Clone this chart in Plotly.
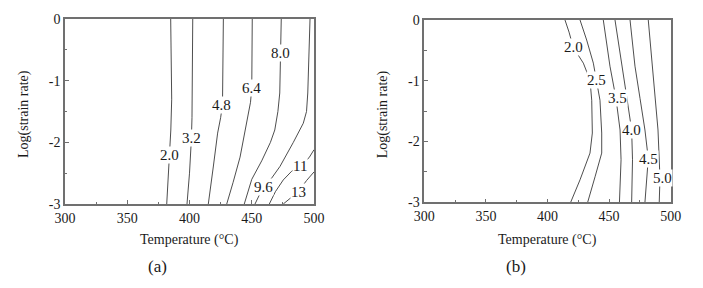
import plotly.graph_objects as go

# ---------------- Data ----------------
# Panel (a): contour lines, each as temperature (°C) / log(strain rate) points
a_levels = ["2.0", "3.2", "4.8", "6.4", "8.0", "9.6", "11", "13"]
a_T = [
    [384.9, 385.5, 385.7, 385.0, 383.8, 381.7],
    [402.6, 402.5, 402.0, 401.5, 400.0, 398.0],
    [427.2, 427.0, 426.5, 425.0, 422.6, 419.1, 415.1],
    [450.4, 450.3, 450.0, 449.0, 445.9, 440.6, 435.0, 429.9],
    [473.7, 473.2, 472.5, 471.0, 468.5, 465.0, 458.0, 450.0, 444.0],
    [496.8, 496.0, 495.0, 494.0, 491.4, 483.4, 472.7, 466.0, 459.3, 452.6],
    [500.0, 496.0, 488.8, 482.0, 475.3, 469.0, 464.1],
    [500.0, 494.0, 487.4, 480.0, 475.3],
]
a_Y = [
    [0.0, -0.8, -1.3, -1.8, -2.2, -3.0],
    [0.0, -1.0, -1.6, -1.95, -2.5, -3.0],
    [0.0, -0.8, -1.39, -1.6, -1.85, -2.4, -3.0],
    [0.0, -0.6, -1.12, -1.35, -1.69, -2.24, -2.65, -3.0],
    [0.0, -0.55, -1.2, -1.5, -1.8, -2.0, -2.3, -2.6, -3.0],
    [0.0, -0.6, -1.2, -1.5, -1.69, -2.0, -2.39, -2.58, -2.72, -3.0],
    [-2.12, -2.25, -2.38, -2.47, -2.61, -2.8, -3.0],
    [-2.48, -2.62, -2.8, -2.92, -3.0],
]
a_label_T = [384.0, 401.5, 426.0, 450.0, 473.0, 459.3, 488.8, 487.4]
a_label_Y = [-2.2, -1.93, -1.39, -1.12, -0.55, -2.72, -2.38, -2.8]

# Panel (b)
b_levels = ["2.0", "2.5", "3.5", "4.0", "4.5", "5.0"]
b_T = [
    [414.2, 417.5, 420.9, 429.1, 434.5, 435.9, 436.4, 434.5, 426.4, 418.8],
    [426.4, 431.8, 437.2, 439.9, 442.6, 444.0, 444.0, 438.6, 432.6],
    [445.3, 450.7, 455.6, 458.9, 459.7, 458.4],
    [454.8, 460.2, 464.5, 468.3, 469.0, 468.3],
    [467.0, 471.0, 475.1, 479.1, 481.8, 479.1],
    [481.8, 485.1, 487.3, 489.7, 491.3, 490.7],
]
b_Y = [
    [0.0, -0.2, -0.45, -0.71, -0.99, -1.32, -1.86, -2.19, -2.63, -3.0],
    [0.0, -0.33, -0.71, -0.99, -1.32, -1.86, -2.19, -2.58, -3.0],
    [0.0, -0.76, -1.29, -1.81, -2.3, -3.0],
    [0.0, -0.76, -1.29, -1.81, -2.3, -3.0],
    [0.0, -0.76, -1.29, -1.81, -2.28, -3.0],
    [0.0, -0.76, -1.29, -1.81, -2.6, -3.0],
]
b_label_T = [420.9, 439.9, 456.7, 468.3, 481.8, 493.0]
b_label_Y = [-0.45, -0.99, -1.29, -1.81, -2.28, -2.6]

x_ticks = [300, 350, 400, 450, 500]
x_ticktext = ["300", "350", "400", "450", "500"]
y_ticks = [0, -1, -2, -3]
y_ticktext = ["0", "-1", "-2", "-3"]
x_title = "Temperature (°C)"
y_title = "Log(strain rate)"
panel_names = ["(a)", "(b)"]

# ---------------- Figure ----------------
W, H = 703, 288
OFF = 8  # page body margin offset in the browser
FONT = "Liberation Serif, Times New Roman, serif"
TXT = "#1a1a1a"
LINE = "#3a3a3a"
FRAME = "#707070"

fig = go.Figure()

for T, Y in zip(a_T, a_Y):
    fig.add_trace(go.Scatter(x=T, y=Y, mode="lines", xaxis="x", yaxis="y",
                             line=dict(color=LINE, width=0.9), hoverinfo="skip",
                             showlegend=False))
for T, Y in zip(b_T, b_Y):
    fig.add_trace(go.Scatter(x=T, y=Y, mode="lines", xaxis="x2", yaxis="y2",
                             line=dict(color=LINE, width=0.9), hoverinfo="skip",
                             showlegend=False))

annotations = []
for lab, tx, ty in zip(a_levels, a_label_T, a_label_Y):
    annotations.append(dict(x=tx, y=ty, xref="x", yref="y", text=lab, showarrow=False,
                            xanchor="center", yanchor="middle",
                            font=dict(family=FONT, size=15, color=TXT),
                            bgcolor="white", borderpad=0))
for lab, tx, ty in zip(b_levels, b_label_T, b_label_Y):
    annotations.append(dict(x=tx, y=ty, xref="x2", yref="y2", text=lab, showarrow=False,
                            xanchor="center", yanchor="middle",
                            font=dict(family=FONT, size=15, color=TXT),
                            bgcolor="white", borderpad=0))

# pixel geometry of the two plot areas (as seen in the window)
pa = dict(l=65, r=314, t=19, b=204)
pb = dict(l=424.3, r=670.7, t=20, b=202.3)


def px(x):
    return (x - OFF) / W


def py(y):
    return 1 - (y - OFF) / H


def dom(p):
    return [px(p["l"]), px(p["r"])], [py(p["b"]), py(p["t"])]


xa, ya = dom(pa)
xb, yb = dom(pb)

axis_common = dict(
    showline=True, mirror=True, linecolor=FRAME, linewidth=1.5,
    ticks="inside", ticklen=4, tickwidth=1, tickcolor=FRAME,
    showgrid=False, zeroline=False, automargin=False,
    tickfont=dict(family=FONT, size=14, color=TXT),
    minor=dict(ticks="inside", ticklen=2.5, tickwidth=1, tickcolor=FRAME),
)

fig.update_layout(
    template="none",
    width=W, height=H,
    margin=dict(l=0, r=0, t=0, b=0, autoexpand=False),
    paper_bgcolor="white", plot_bgcolor="white",
    xaxis=dict(domain=xa, range=[300, 500], tickvals=x_ticks, ticktext=x_ticktext,
               anchor="y", minor_dtick=25, **axis_common),
    yaxis=dict(domain=ya, range=[-3, 0], tickvals=y_ticks, ticktext=y_ticktext,
               anchor="x", minor_dtick=0.5, **axis_common),
    xaxis2=dict(domain=xb, range=[300, 500], tickvals=x_ticks, ticktext=x_ticktext,
                anchor="y2", minor_dtick=25, **axis_common),
    yaxis2=dict(domain=yb, range=[-3, 0], tickvals=y_ticks, ticktext=y_ticktext,
                anchor="x2", minor_dtick=0.5, **axis_common),
    showlegend=False,
)

# axis titles and panel labels (paper coordinates from pixel positions)
for p, name in zip([pa, pb], panel_names):
    cx = (p["l"] + p["r"]) / 2
    annotations.append(dict(x=px(cx), y=py(240), xref="paper", yref="paper",
                            xanchor="center", yanchor="middle",
                            text=x_title, showarrow=False,
                            font=dict(family=FONT, size=14, color=TXT)))
    annotations.append(dict(x=px(p["l"] - 41), y=py(114), xref="paper", yref="paper",
                            xanchor="center", yanchor="middle",
                            text=y_title, showarrow=False, textangle=-90,
                            font=dict(family=FONT, size=14, color=TXT)))
    annotations.append(dict(x=px(cx - 32), y=py(266), xref="paper", yref="paper",
                            xanchor="center", yanchor="middle",
                            text=name, showarrow=False,
                            font=dict(family=FONT, size=17, color=TXT)))

fig.update_layout(annotations=annotations)
fig.write_html("out.html")
